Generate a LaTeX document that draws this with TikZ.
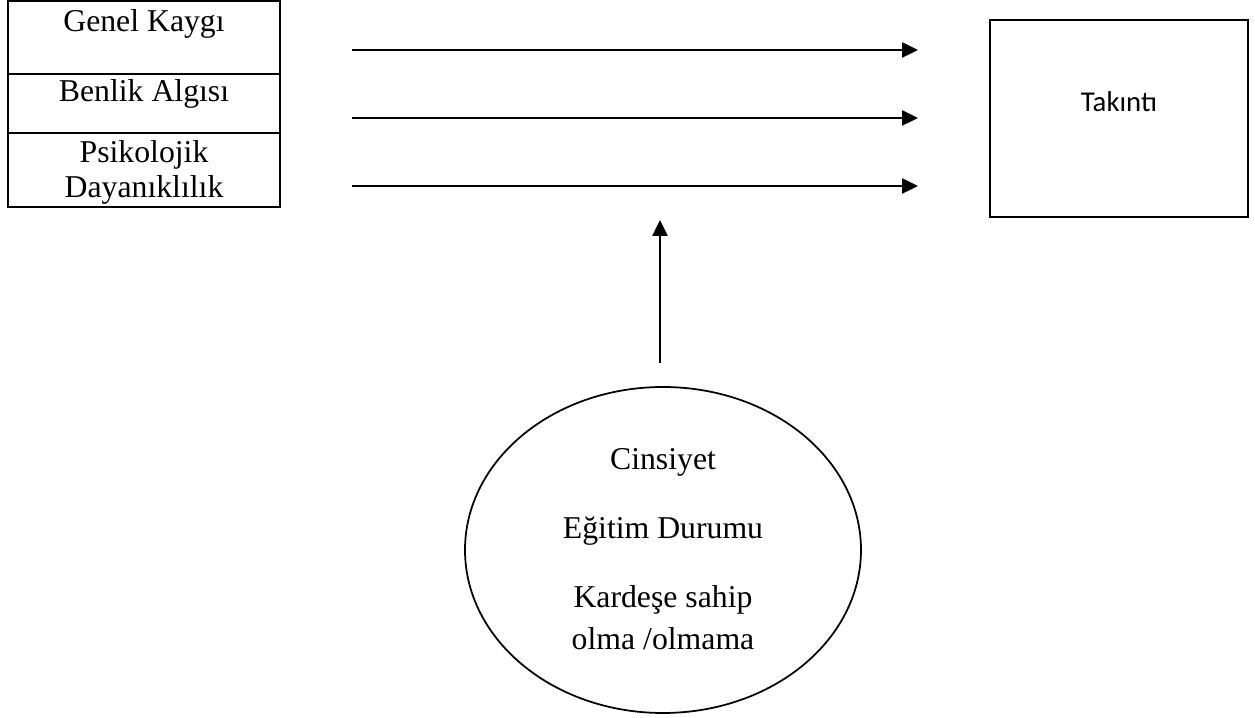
\documentclass[tikz,border=0pt]{standalone}
\usepackage{fontspec}
\setmainfont{Liberation Serif}
\newfontfamily\calibri{Carlito}
\usetikzlibrary{arrows.meta,shapes.geometric}
\begin{document}
\begin{tikzpicture}[x=0.4pt,y=-0.4pt,
  box/.style={draw, line width=0.9pt, rectangle, inner sep=0pt},
  lbl/.style={anchor=base, inner sep=0pt,
              font=\fontsize{12.7}{14}\selectfont},
  arr/.style={line width=1pt, -{Triangle[length=6.4pt,width=6pt]}}]
\useasboundingbox (0,0) rectangle (1255,718);

% predictor boxes
\node[box, minimum width=108.8pt, minimum height=29.2pt] (gk) at (144,37.5) {};
\node[box, minimum width=108.8pt, minimum height=23.6pt] (ba) at (144,103.5) {};
\node[box, minimum width=108.8pt, minimum height=29.6pt] (pd) at (144,170) {};
\node[lbl] (gkt) at (144,32) {Genel Kaygı};
\node[lbl] (bat) at (144,102) {Benlik Algısı};
\node[lbl] (pdt1) at (144,163) {Psikolojik};
\node[lbl] (pdt2) at (144,198) {Dayanıklılık};

% outcome box
\node[box, minimum width=103.2pt, minimum height=78.8pt] (tk) at (1119,118.5) {};
\node[lbl, font=\calibri\fontsize{11.5}{14}\selectfont] (tkt) at (1119,112) {Takıntı};

% paths
\coordinate (a1s) at (352,50);  \coordinate (a1e) at (918,50);
\coordinate (a2s) at (352,118); \coordinate (a2e) at (918,118);
\coordinate (a3s) at (352,186); \coordinate (a3e) at (918,186);
\draw[arr] (a1s) -- (a1e);
\draw[arr] (a2s) -- (a2e);
\draw[arr] (a3s) -- (a3e);

% moderator ellipse
\node[draw, ellipse, line width=0.7pt, inner sep=0pt,
      minimum width=158.4pt, minimum height=130.4pt] (dem) at (663,550) {};
\node[lbl] (cins) at (663,470) {Cinsiyet};
\node[lbl] (egit) at (663,539) {Eğitim Durumu};
\node[lbl] (kard1) at (663,608) {Kardeşe sahip};
\node[lbl] (kard2) at (663,650) {olma /olmama};

% moderation arrow
\coordinate (modbase) at (660,363);
\coordinate (modtip) at (660,220);
\draw[arr] (modbase) -- (modtip);
\end{tikzpicture}
\end{document}
